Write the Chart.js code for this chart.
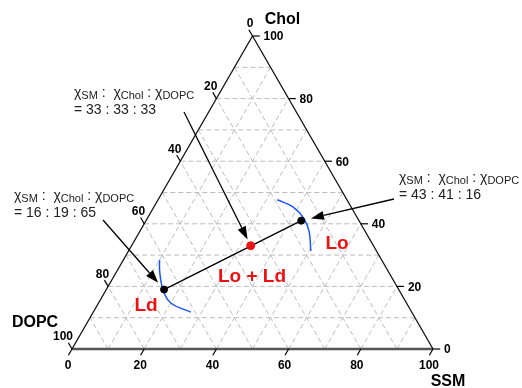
<!DOCTYPE html>
<html>
  <head>
    <title>SSM / Chol / DOPC</title>
    <script src="https://cdn.jsdelivr.net/npm/chart.js"></script>
    <style>
      body { margin: 0; background: #fff; }
      #wrap { width: 522px; height: 388px; }
    </style>
  </head>
  <body>
    <div id="wrap"><canvas id="ternaryChart" width="522" height="388"></canvas></div>
    <script>
      // Ternary data (mol %)
      var gridLevels = [10, 20, 30, 40, 50, 60, 70, 80, 90];
      var tickLevels = [0, 20, 40, 60, 80, 100];

      // compositions: Ld end, midpoint, Lo end
      var compSM = [16, 33, 43];
      var compChol = [19, 33, 41];
      var compDOPC = [65, 33, 16];
      var compColors = ["#000000", "#ee1111", "#000000"];

      // phase boundaries (blue arcs)
      var ldBoundarySM = [10, 12, 16, 20, 27];
      var ldBoundaryChol = [28.5, 24.6, 18.6, 14.7, 11.8];
      var loBoundarySM = [33, 38.5, 43.5, 47, 50.5];
      var loBoundaryChol = [47.7, 45.4, 41.6, 37.4, 31.3];

      // SM + Chol + DOPC = 100 -> cartesian
      function toXY(sm, chol) {
        return { x: sm + chol / 2, y: chol };
      }

      var datasets = [];

      // points
      datasets.push({
        data: compSM.map(function (s, i) { return toXY(s, compChol[i]); }),
        showLine: false,
        pointRadius: [3.5, 4, 3.5],
        pointBackgroundColor: compColors,
        pointBorderColor: compColors,
        clip: false,
      });

      // tie line
      datasets.push({
        data: [toXY(compSM[0], compChol[0]), toXY(compSM[2], compChol[2])],
        showLine: true,
        pointRadius: 0,
        borderColor: "#000",
        borderWidth: 1.4,
      });

      // boundaries
      datasets.push({
        data: ldBoundarySM.map(function (s, i) { return toXY(s, ldBoundaryChol[i]); }),
        showLine: true,
        tension: 0.4,
        pointRadius: 0,
        borderColor: "#1a55ff",
        borderWidth: 1.5,
      });
      datasets.push({
        data: loBoundarySM.map(function (s, i) { return toXY(s, loBoundaryChol[i]); }),
        showLine: true,
        tension: 0.4,
        pointRadius: 0,
        borderColor: "#1a55ff",
        borderWidth: 1.5,
      });

      // triangle
      datasets.push({
        data: [toXY(0, 0), toXY(0, 100), toXY(100, 0)],
        showLine: true,
        pointRadius: 0,
        borderColor: "#111",
        borderWidth: 1.3,
        clip: false,
      });
      datasets.push({
        data: [toXY(0, 0), toXY(100, 0)],
        showLine: true,
        pointRadius: 0,
        borderColor: "#555",
        borderWidth: 2.5,
        clip: false,
      });

      // grid
      gridLevels.forEach(function (g) {
        var lines = [
          [toXY(0, g), toXY(100 - g, g)],
          [toXY(g, 0), toXY(g, 100 - g)],
          [toXY(100 - g, 0), toXY(0, 100 - g)],
        ];
        lines.forEach(function (l) {
          datasets.push({
            data: l,
            showLine: true,
            pointRadius: 0,
            borderColor: "#bdbdbd",
            borderWidth: 1,
            borderDash: [5, 3],
          });
        });
      });

      function drawArrow(ctx, x0, y0, x1, y1) {
        var a = Math.atan2(y1 - y0, x1 - x0);
        var len = 13, half = 4.5;
        var bx = x1 - len * Math.cos(a), by = y1 - len * Math.sin(a);
        ctx.strokeStyle = "#000";
        ctx.fillStyle = "#000";
        ctx.lineWidth = 1.3;
        ctx.beginPath();
        ctx.moveTo(x0, y0);
        ctx.lineTo(bx, by);
        ctx.stroke();
        ctx.beginPath();
        ctx.moveTo(x1, y1);
        ctx.lineTo(bx + half * Math.sin(a), by - half * Math.cos(a));
        ctx.lineTo(bx - half * Math.sin(a), by + half * Math.cos(a));
        ctx.closePath();
        ctx.fill();
      }

      function drawRatio(ctx, x, y, i) {
        var parts = [
          ["\u03C7", 0], ["SM", 1], [" :  ", 0],
          ["\u03C7", 0], ["Chol", 1], [" : ", 0],
          ["\u03C7", 0], ["DOPC", 1],
        ];
        ctx.fillStyle = "#222";
        ctx.textAlign = "left";
        ctx.textBaseline = "alphabetic";
        var cx = x;
        parts.forEach(function (p) {
          ctx.font = p[1] ? "11px 'Liberation Sans', Arial" : "14px 'Liberation Sans', Arial";
          ctx.fillText(p[0], cx, y + (p[1] ? 2 : 0));
          cx += ctx.measureText(p[0]).width;
        });
        ctx.font = "14px 'Liberation Sans', Arial";
        ctx.fillText("= " + compSM[i] + " : " + compChol[i] + " : " + compDOPC[i], x, y + 17);
      }

      var ternaryPlugin = {
        id: "ternary",
        afterDatasetsDraw: function (chart) {
          var ctx = chart.ctx;
          var xs = chart.scales.x, ys = chart.scales.y;
          function px(p) {
            return { x: xs.getPixelForValue(p.x), y: ys.getPixelForValue(p.y) };
          }
          ctx.save();
          ctx.strokeStyle = "#000";
          ctx.lineWidth = 1.2;
          ctx.fillStyle = "#000";
          ctx.font = "bold 12px 'Liberation Sans', Arial";
          tickLevels.forEach(function (t) {
            // bottom (SSM)
            var a = px(toXY(t, 0)), b = px({ x: t - 1, y: -2 });
            ctx.beginPath(); ctx.moveTo(a.x, a.y); ctx.lineTo(b.x, b.y); ctx.stroke();
            ctx.textAlign = "center"; ctx.textBaseline = "middle";
            ctx.fillText(String(t), a.x - 4, a.y + 17);
            // right (Chol)
            a = px(toXY(100 - t, t)); b = px({ x: 102 - t / 2, y: t });
            ctx.beginPath(); ctx.moveTo(a.x, a.y); ctx.lineTo(b.x, b.y); ctx.stroke();
            ctx.textAlign = "left";
            ctx.fillText(String(t), a.x + 11, a.y + 1);
            // left (DOPC)
            a = px(toXY(0, 100 - t)); b = px({ x: (100 - t) / 2 - 1, y: 102 - t });
            ctx.beginPath(); ctx.moveTo(a.x, a.y); ctx.lineTo(b.x, b.y); ctx.stroke();
            ctx.textAlign = "right";
            ctx.fillText(String(t), a.x + 1, a.y - 12);
          });

          // axis titles
          ctx.font = "bold 16px 'Liberation Sans', Arial";
          ctx.textAlign = "center"; ctx.textBaseline = "middle";
          var top = px(toXY(0, 100)), bl = px(toXY(0, 0)), br = px(toXY(100, 0));
          ctx.fillText("Chol", top.x + 30, top.y - 16);
          ctx.fillText("DOPC", bl.x - 37, bl.y - 26);
          ctx.fillText("SSM", br.x + 15, br.y + 33);

          // phase labels
          ctx.fillStyle = "#ee1111";
          ctx.font = "bold 19px 'Liberation Sans', Arial";
          ctx.fillText("Lo", 337, 244);
          ctx.fillText("Lo + Ld", 252, 277);
          ctx.fillText("Ld", 146, 306);

          // annotations
          drawRatio(ctx, 74, 97, 1);
          drawRatio(ctx, 14, 200, 0);
          drawRatio(ctx, 399, 182, 2);

          var arrowStarts = [[184, 112], [103, 220], [394, 199]];
          var arrowTargets = [1, 0, 2];
          var gaps = [7, 9, 10];
          arrowStarts.forEach(function (s, k) {
            var i = arrowTargets[k];
            var p = px(toXY(compSM[i], compChol[i]));
            var dx = p.x - s[0], dy = p.y - s[1];
            var d = Math.sqrt(dx * dx + dy * dy);
            drawArrow(ctx, s[0], s[1], p.x - gaps[k] * dx / d, p.y - gaps[k] * dy / d);
          });
          ctx.restore();
        },
      };

      new Chart(document.getElementById("ternaryChart"), {
        type: "scatter",
        data: { datasets: datasets },
        options: {
          responsive: false,
          animation: false,
          layout: { padding: { left: 72, right: 89, top: 36, bottom: 39 } },
          plugins: { legend: { display: false }, tooltip: { enabled: false } },
          scales: {
            x: { type: "linear", min: 0, max: 100, display: false },
            y: { type: "linear", min: 0, max: 100, display: false },
          },
        },
        plugins: [ternaryPlugin],
      });
    </script>
  </body>
</html>
